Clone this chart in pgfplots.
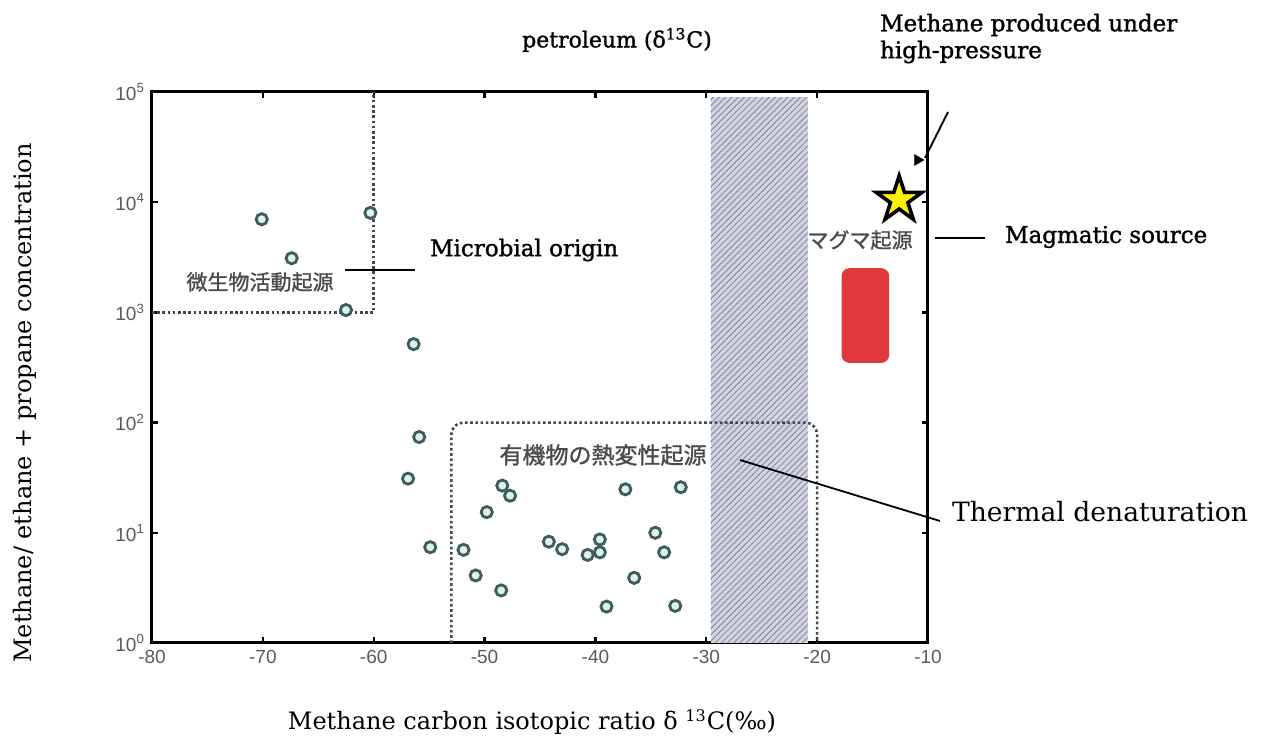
\documentclass[border=0pt]{standalone}
\usepackage{pgfplots}
\pgfplotsset{compat=1.18}
\usepackage{fontspec}
\setmainfont{DejaVu Serif}
\setsansfont{Liberation Sans}
\newfontfamily\semib{DejaVu Serif}[FakeBold=1.3]
\newfontfamily\cjk{Noto Sans CJK JP}[FakeBold=1.2]
\usetikzlibrary{patterns.meta}

\definecolor{mk}{HTML}{3E5C5C}
\definecolor{mkfill}{HTML}{DDF2EE}
\definecolor{hatchbg}{HTML}{D2D4E0}
\definecolor{hatchln}{HTML}{8A8FAA}
\definecolor{dotc}{HTML}{45455A}
\definecolor{redbox}{HTML}{E0393B}
\definecolor{tickc}{HTML}{5A5A5A}
\definecolor{jpc}{HTML}{4A4A4A}

\pgfdeclareplotmark{fstar}{%
 \pgfpathmoveto{\pgfpointpolar{90}{\pgfplotmarksize}}%
 \pgfpathlineto{\pgfpointpolar{126}{0.382\pgfplotmarksize}}%
 \pgfpathlineto{\pgfpointpolar{162}{\pgfplotmarksize}}%
 \pgfpathlineto{\pgfpointpolar{198}{0.382\pgfplotmarksize}}%
 \pgfpathlineto{\pgfpointpolar{234}{\pgfplotmarksize}}%
 \pgfpathlineto{\pgfpointpolar{270}{0.382\pgfplotmarksize}}%
 \pgfpathlineto{\pgfpointpolar{306}{\pgfplotmarksize}}%
 \pgfpathlineto{\pgfpointpolar{342}{0.382\pgfplotmarksize}}%
 \pgfpathlineto{\pgfpointpolar{18}{\pgfplotmarksize}}%
 \pgfpathlineto{\pgfpointpolar{54}{0.382\pgfplotmarksize}}%
 \pgfpathclose
 \pgfusepathqfillstroke}

\newcommand\pxc[2]{({#1*0.5pt},{(742-#2)*0.5pt})}

\begin{document}
\begin{tikzpicture}
\useasboundingbox (0,0) rectangle (632.5pt,371pt);
\begin{axis}[
 at={(76pt,49.5pt)}, anchor=south west,
 scale only axis, width=388pt, height=275.5pt,
 xmin=-80, xmax=-10, ymode=log, ymin=1, ymax=1e5,
 xtick={-80,-70,-60,-50,-40,-30,-20,-10},
 xticklabels={-80,-70,-60,-50,-40,-30,-20,-10},
 ytick={1,10,100,1000,10000,100000},
 yticklabels={10\textsuperscript{0},10\textsuperscript{1},10\textsuperscript{2},10\textsuperscript{3},10\textsuperscript{4},10\textsuperscript{5}},
 yminorticks=false,
 tick align=inside,
 major tick length=3pt,
 every tick/.style={black, line width=1.2pt},
 axis line style={line width=1.5pt},
 ticklabel style={font=\sffamily\fontsize{9.5}{10}\selectfont, text=tickc},
 clip=false,
]
% petroleum band
\addplot[draw=none, fill=hatchbg] coordinates {(-29.6,1) (-20.85,1) (-20.85,9e4) (-29.6,9e4)} -- cycle;
\addplot[draw=none, pattern={Lines[angle=45, distance=2.2pt, line width=0.5pt]}, pattern color=hatchln] coordinates {(-29.6,1) (-20.85,1) (-20.85,9e4) (-29.6,9e4)} -- cycle;
% dotted regions
\addplot[dotc, line width=1.3pt, dash pattern=on 1.3pt off 1.3pt] coordinates {(-80,1000) (-60,1000) (-60,1e5)};
\addplot[dotc, line width=1.3pt, dash pattern=on 1.3pt off 1.3pt, rounded corners=6pt] coordinates {(-53,1) (-53,100) (-20,100) (-20,1)};
% samples
\addplot[only marks, mark=*, mark size=2.8pt, mark options={draw=mk, fill=mkfill, line width=1.4pt}] coordinates {
(-70.1,7000) (-60.3,8000) (-67.4,3100) (-62.5,1050) (-56.4,515)
(-55.9,74) (-56.9,31) (-54.9,7.4) (-51.9,7.0) (-50.8,4.1)
(-49.8,15.4) (-48.5,3.0) (-48.4,26.8) (-47.7,21.7) (-44.2,8.3)
(-43.0,7.1) (-40.7,6.3) (-39.6,8.7) (-39.6,6.65) (-39.0,2.14)
(-37.3,24.8) (-36.5,3.9) (-34.6,10.0) (-33.8,6.65) (-32.8,2.17)
(-32.3,25.9)};
% magmatic red box
\addplot[draw=none, fill=redbox, rounded corners=4pt] coordinates {(-17.8,348) (-13.5,348) (-13.5,2520) (-17.8,2520)} -- cycle;
% star
\addplot[only marks, mark=fstar, mark size=12pt, mark options={fill=yellow, draw=black, line width=1.8pt}] coordinates {(-12.6,10500)};
% high-pressure pointer head
\addplot[only marks, mark=triangle*, mark size=3pt, mark options={fill=black, draw=black, rotate=-90}] coordinates {(-10.93,24150)};
\end{axis}

% leader lines
\draw[line width=0.9pt] \pxc{345}{270} -- \pxc{415}{270};
\draw[line width=0.9pt] \pxc{740}{460} -- \pxc{940}{521};
\draw[line width=0.9pt] \pxc{935}{238} -- \pxc{985}{238};
\draw[line width=0.9pt] \pxc{948}{112} -- \pxc{925}{158};

% annotations
\node[font=\semib\fontsize{11}{13}\selectfont] at \pxc{617}{40} {petroleum (δ\textsuperscript{13}C)};
\node[anchor=west, font=\semib\fontsize{11.5}{13}\selectfont] at \pxc{873}{25} {Methane produced under};
\node[anchor=west, font=\semib\fontsize{11.5}{13}\selectfont] at \pxc{873}{52} {high-pressure};
\node[anchor=west, font=\semib\fontsize{11.5}{13}\selectfont] at \pxc{423}{250} {Microbial origin};
\node[anchor=west, font=\semib\fontsize{11.5}{13}\selectfont] at \pxc{998}{237} {Magmatic source};
\node[anchor=west, font=\fontsize{13.3}{15}\selectfont] at \pxc{945}{512} {Thermal denaturation};
\node[text=jpc, font=\cjk\fontsize{10.5}{12}\selectfont] at \pxc{260}{282} {微生物活動起源};
\node[text=jpc, font=\cjk\fontsize{11.5}{13}\selectfont] at \pxc{603}{455} {有機物の熱変性起源};
\node[text=jpc, font=\cjk\fontsize{10.5}{12}\selectfont] at \pxc{860}{240} {マグマ起源};
% axis titles
\node[font=\fontsize{12}{14}\selectfont] at \pxc{532}{722} {Methane carbon isotopic ratio δ \textsuperscript{13}C(‰)};
\node[rotate=90, font=\fontsize{12}{14}\selectfont] at \pxc{25}{403} {Methane/ ethane + propane concentration};
\end{tikzpicture}
\end{document}
